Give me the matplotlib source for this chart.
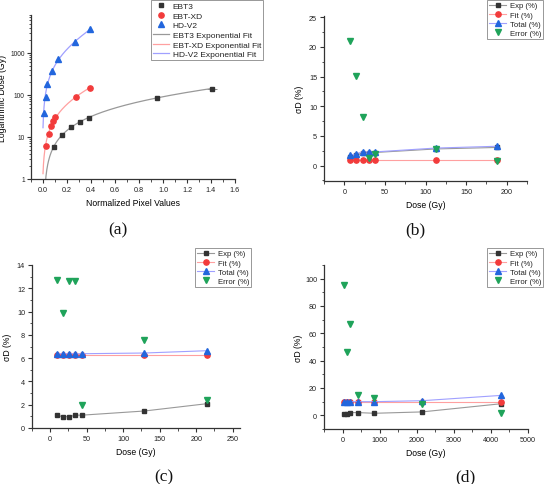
import numpy as np
import matplotlib
matplotlib.use("Agg")
import matplotlib.pyplot as plt
from matplotlib.ticker import AutoMinorLocator, FixedLocator, LogLocator, NullFormatter

plt.rcParams['font.family'] = ['Liberation Sans', 'DejaVu Sans']

# ---- panel (a): calibration curves
ebt3_x = [0.088, 0.157, 0.232, 0.309, 0.381, 0.950, 1.406]
ebt3_y = [5.7, 11.4, 17.1, 22.8, 28.5, 85.5, 142.5]
ebt3_xerr = [0.004, 0.005, 0.006, 0.007, 0.008, 0.02, 0.04]
ebtxd_x = [0.025, 0.052, 0.066, 0.083, 0.102, 0.279, 0.392]
ebtxd_y = [6.0, 12.0, 18.1, 24.1, 30.1, 90.3, 150.5]
hdv2_x = [0.011, 0.025, 0.030, 0.075, 0.127, 0.265, 0.392]
hdv2_y = [36.4, 91, 182, 364, 728, 1820, 3640]

# ---- panel (b)
dose_b = [7.5, 15, 22.5, 30, 37.5, 112.5, 187.5]
exp_b = [1.5, 1.7, 2.2, 2.2, 2.2, 2.8, 3.05]
fit_b = [0.95, 0.95, 0.95, 0.95, 0.95, 0.95, 0.95]
total_b = [1.8, 1.97, 2.35, 2.3, 2.3, 2.95, 3.25]
err_b = [21.0, 15.1, 8.1, 1.35, 1.95, 2.75, 0.85]

# ---- panel (c)
dose_c = [8.6, 17.2, 25.8, 34.4, 43, 129, 215]
exp_c = [1.1, 0.97, 0.97, 1.1, 1.1, 1.46, 2.09]
fit_c = [6.25, 6.25, 6.25, 6.25, 6.25, 6.25, 6.25]
total_c = [6.38, 6.38, 6.38, 6.38, 6.38, 6.44, 6.64]
err_c = [12.67, 9.87, 12.62, 12.62, 1.95, 7.58, 2.4]

# ---- panel (d)
dose_d = [42.8, 107, 214, 428, 856, 2140, 4280]
exp_d = [1.2, 1.2, 2.0, 2.0, 1.5, 2.5, 8.5]
fit_d = [9.5, 9.5, 9.5, 9.5, 9.5, 9.5, 9.5]
total_d = [10.0, 10.0, 10.0, 10.0, 10.0, 10.7, 14.6]
err_d = [95.6, 46.5, 66.7, 14.6, 12.7, 8.3, 1.5]

C_BLK = '#333333'
C_RED = '#f23b3b'
C_BLU = '#2266dd'
C_GRN = '#1fa35a'
AX_C = '#333333'
TICK_FS = 5.2
LAB_FS = 6.2


def exp_fit(x, y):
    # y = y0 + A*exp(x/t), scan t, linear lstsq for y0, A
    x = np.asarray(x); y = np.asarray(y)
    best = None
    for t in np.logspace(-2.5, 1.5, 800):
        M = np.column_stack([np.ones_like(x), np.exp(x / t)])
        coef, *_ = np.linalg.lstsq(M, y, rcond=None)
        r = np.sum((M @ coef - y) ** 2)
        if best is None or r < best[0]:
            best = (r, coef, t)
    _, (y0, A), t = best
    xs = np.linspace(0, x.max(), 400)
    ys = y0 + A * np.exp(xs / t)
    ys = np.where(ys > 0.5, ys, np.nan)
    return xs, ys


def style(ax):
    for s in ['top', 'right']:
        ax.spines[s].set_visible(False)
    for s in ['left', 'bottom']:
        ax.spines[s].set_color(AX_C)
        ax.spines[s].set_linewidth(0.9)
    ax.tick_params(which='major', direction='out', length=3, width=0.8,
                   colors=AX_C, labelsize=TICK_FS, labelcolor='#222222', pad=2)
    ax.tick_params(which='minor', direction='out', length=1.8, width=0.6, colors=AX_C)


fig = plt.figure(figsize=(5.45, 4.85), dpi=100)
W, H = 545.0, 485.0


def add_ax(l, r, t, b):
    return fig.add_axes([l / W, 1 - b / H, (r - l) / W, (b - t) / H])


def legend(ax, handles, xy, fs, hl):
    lg = ax.legend(handles=handles, loc='upper right',
                   bbox_to_anchor=(xy[0] / W, 1 - xy[1] / H),
                   bbox_transform=fig.transFigure, fontsize=fs, frameon=True,
                   fancybox=False, edgecolor='#888888', handlelength=hl,
                   borderpad=0.25, labelspacing=0.22, handletextpad=0.4,
                   borderaxespad=0, framealpha=1)
    lg.get_frame().set_linewidth(0.6)
    for t in lg.get_texts():
        t.set_color('#222222')
    return lg


def labels(ax, box, xlab, ylab, ylab_x):
    l, r, t, b = box
    ax.set_xlabel(xlab, fontsize=LAB_FS, labelpad=3.5)
    ax.set_ylabel(ylab, fontsize=LAB_FS)
    ax.yaxis.set_label_coords((ylab_x - l) / (r - l), 0.5)


# (a)
box_a = (31, 235, 16, 180)
ax = add_ax(*box_a)
style(ax)
ax.tick_params(axis='y', which='major', labelsize=4.8, pad=1.5)
ax.set_yscale('log')
ax.errorbar(ebt3_x, ebt3_y, xerr=ebt3_xerr, fmt='none', ecolor='#777777',
            elinewidth=0.6, capsize=0, zorder=2)
h1, = ax.plot(ebt3_x, ebt3_y, 's', color=C_BLK, ms=3.5, label='EBT3', zorder=3)
h2, = ax.plot(ebtxd_x, ebtxd_y, 'o', color=C_RED, ms=3.8, label='EBT-XD', zorder=3)
h3, = ax.plot(hdv2_x, hdv2_y, '^', color=C_BLU, ms=3.8, label='HD-V2', zorder=3)
fx, fy = exp_fit(ebt3_x, ebt3_y)
h4, = ax.plot(fx, fy, color='#999999', lw=0.9, label='EBT3 Exponential Fit')
fx, fy = exp_fit(ebtxd_x, ebtxd_y)
h5, = ax.plot(fx, fy, color='#ffa0a0', lw=0.9, label='EBT-XD Exponential Fit')
fx, fy = exp_fit(hdv2_x, hdv2_y)
h6, = ax.plot(fx, fy, color='#a0a0ff', lw=0.9, label='HD-V2 Exponential Fit')
ax.set_xlim(-0.1, 1.6)
ax.set_ylim(1, 8000)
ax.set_xticks(np.arange(0, 1.61, 0.2))
ax.set_xticklabels(['%.1f' % v for v in np.arange(0, 1.61, 0.2)])
ax.xaxis.set_minor_locator(AutoMinorLocator(2))
ax.yaxis.set_major_locator(FixedLocator([1, 10, 100, 1000]))
ax.set_yticklabels(['1', '10', '100', '1000'])
ax.yaxis.set_minor_locator(LogLocator(base=10, subs=np.arange(2, 10)))
ax.yaxis.set_minor_formatter(NullFormatter())
labels(ax, box_a, 'Normalized Pixel Values', 'Logarithmic Dose (Gy)', 7.5)
legend(ax, [h1, h2, h3, h4, h5, h6], (263, 1), 6.0, 1.9)


def sigma_panel(box, dose, e, f, t, er, xlim, ylim, xticks, yticks, leg_xy, ylab_x):
    ax = add_ax(*box)
    style(ax)
    a, = ax.plot(dose, e, '-s', color='#999999', mfc=C_BLK, mec=C_BLK, ms=3.5, lw=0.8,
                 label='Exp (%)', zorder=3)
    b, = ax.plot(dose, f, '-o', color='#ffa0a0', mfc=C_RED, mec=C_RED, ms=3.8, lw=0.8,
                 label='Fit (%)', zorder=3)
    c, = ax.plot(dose, t, '-^', color='#a0a0ff', mfc=C_BLU, mec=C_BLU, ms=4, lw=0.8,
                 label='Total (%)', zorder=4)
    d, = ax.plot(dose, er, 'v', color=C_GRN, ms=4, label='Error (%)', zorder=5)
    ax.set_xlim(*xlim)
    ax.set_ylim(*ylim)
    ax.set_xticks(xticks)
    ax.set_yticks(yticks)
    ax.xaxis.set_minor_locator(AutoMinorLocator(2))
    ax.yaxis.set_minor_locator(AutoMinorLocator(2))
    labels(ax, box, 'Dose (Gy)', 'σD (%)', ylab_x)
    legend(ax, [a, b, c, d], leg_xy, 5.6, 2.3)
    return ax


sigma_panel((324, 527, 17, 182), dose_b, exp_b, fit_b, total_b, err_b,
            (-25, 225), (-2.6, 25.2), [0, 50, 100, 150, 200], [0, 5, 10, 15, 20, 25],
            (543, 1), 304)
sigma_panel((32, 240, 266, 429), dose_c, exp_c, fit_c, total_c, err_c,
            (-25, 260), (0, 14), [0, 50, 100, 150, 200, 250], [0, 2, 4, 6, 8, 10, 12, 14],
            (251, 249), 12)
sigma_panel((324, 528, 266, 430), dose_d, exp_d, fit_d, total_d, err_d,
            (-500, 5000), (-10, 110), [0, 1000, 2000, 3000, 4000, 5000],
            [0, 20, 40, 60, 80, 100], (543, 249), 303)

for lab, x, y in [('(a)', 118, 230), ('(b)', 415, 230), ('(c)', 164, 477), ('(d)', 465, 477)]:
    fig.text(x / W, 1 - y / H, lab, fontsize=12.5, family='Liberation Serif',
             ha='center', va='center', color='#111111')

fig.savefig('out.png', dpi=100)
